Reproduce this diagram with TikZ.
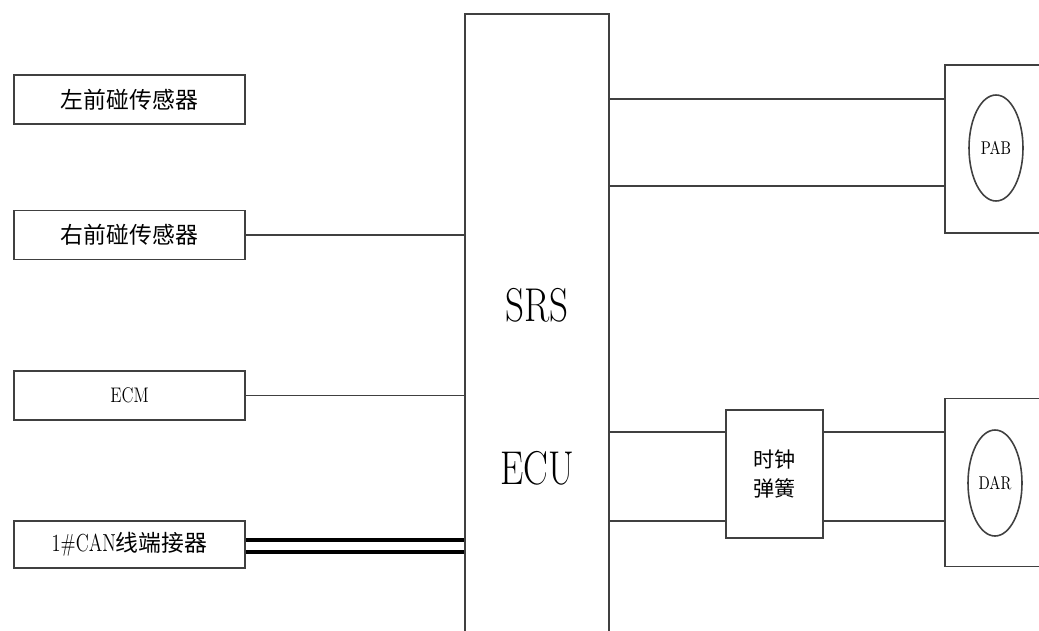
\documentclass[tikz,border=0pt]{standalone}
\usepackage{fontspec}
\usepackage{graphicx}
\newfontfamily\cjk{Noto Sans CJK SC}
\usetikzlibrary{shapes.geometric}

\begin{document}
\begin{tikzpicture}[line width=0.9pt,
    sensor/.style={draw=black!75,minimum width=4.62cm,minimum height=0.98cm,inner sep=0pt,font=\cjk\fontsize{13}{15}\selectfont},
    airbag/.style={draw=black!75,minimum width=2.5cm,minimum height=3.36cm,inner sep=0pt},
    bag/.style={draw=black!75,ellipse,minimum width=1.08cm,minimum height=2.12cm,inner sep=0pt,font=\fontsize{10.5}{12}\selectfont},
    wire/.style={draw=black!75}]
    \useasboundingbox (0,0) rectangle (20.78,12.6);
    \clip (0,0) rectangle (20.78,12.6);
        % sensors and inputs
        \node[sensor] (left) at (2.59,10.61) {左前碰传感器};
        \node[sensor,font=\fontsize{12}{14}\selectfont] (ecm) at (2.59,4.69) {\scalebox{0.8}[1]{ECM}};
        \node[sensor] (right) at (2.59,7.9) {右前碰传感器};
        \node[sensor,minimum height=0.94cm] (can) at (2.59,1.71) {{\rmfamily\fontsize{14}{16}\selectfont\scalebox{0.75}[1]{1\#CAN}}线端接器};
        % control unit
        \node[draw=black!75,minimum width=2.88cm,minimum height=12.92cm] (ecu) at (10.74,5.86) {};
        \node[font=\fontsize{27}{30}\selectfont] (srs) at (10.74,6.5) {\scalebox{0.78}[1]{SRS}};
        \node[font=\fontsize{27}{30}\selectfont] (ecutext) at (10.74,3.24) {\scalebox{0.78}[1]{ECU}};
        % clock spring and airbags
        \node[draw=black!75,minimum width=1.94cm,minimum height=2.56cm,align=center,font=\cjk\fontsize{12}{17}\selectfont] (clk) at (15.49,3.12) {时钟\\弹簧};
        \node[airbag] (pab) at (20.15,9.62) {};
        \node[bag] (pabbag) at (19.92,9.64) {\scalebox{0.8}[1]{PAB}};
        \node[airbag] (dar) at (20.15,2.95) {};
        \node[bag] (darbag) at (19.9,2.94) {\scalebox{0.8}[1]{DAR}};
        % wiring
        \draw[wire] (right.east) -- (right.east -| ecu.west);
        \draw[wire] (ecm.east) -- (ecm.east -| ecu.west);
        \coordinate (c1) at ([yshift=0.09cm]can.east);
        \coordinate (c2) at ([yshift=-0.15cm]can.east);
        \draw[wire,draw=black,line width=2.3pt] (c1) -- (c1 -| ecu.west);
        \draw[wire,draw=black,line width=2.3pt] (c2) -- (c2 -| ecu.west);
        \coordinate (p1) at ([yshift=1.0cm]pab.west);
        \coordinate (p2) at ([yshift=-0.74cm]pab.west);
        \draw[wire] (ecu.east |- p1) -- (p1);
        \draw[wire] (ecu.east |- p2) -- (p2);
        \coordinate (d1) at ([yshift=1.01cm]dar.west);
        \coordinate (d2) at ([yshift=-0.77cm]dar.west);
        \draw[wire] (ecu.east |- d1) -- (clk.west |- d1);
        \draw[wire] (ecu.east |- d2) -- (clk.west |- d2);
        \draw[wire] (clk.east |- d1) -- (d1);
        \draw[wire] (clk.east |- d2) -- (d2);
    \end{tikzpicture}
\end{document}
